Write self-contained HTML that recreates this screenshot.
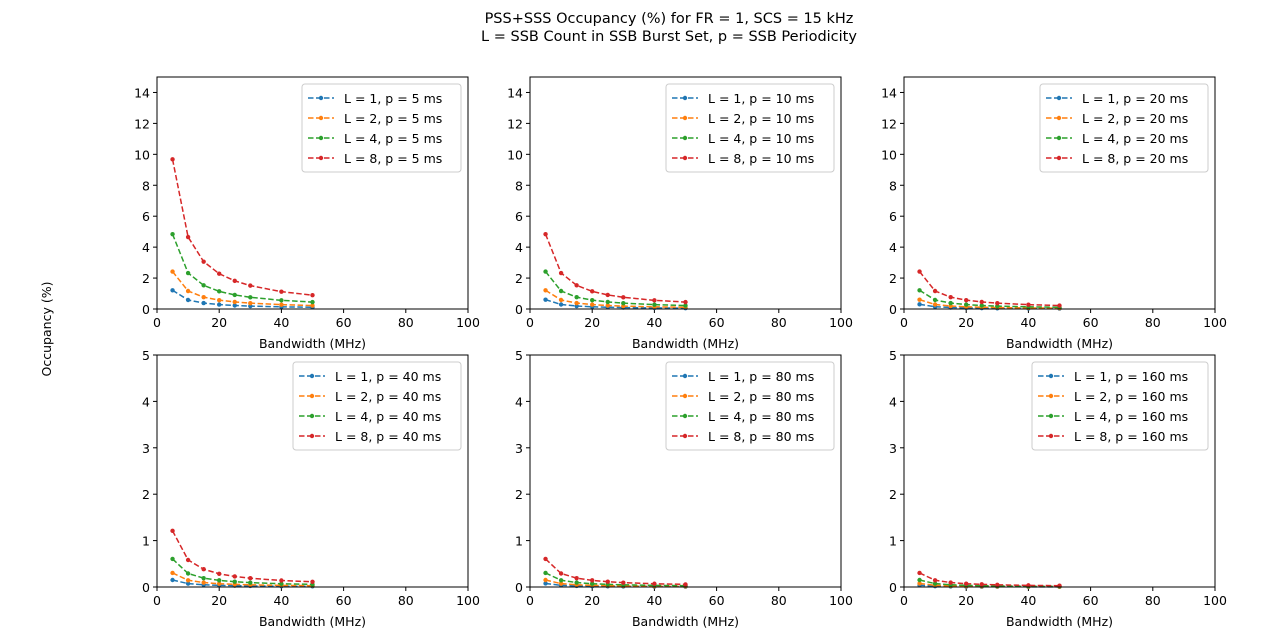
<!DOCTYPE html>
<html><head><meta charset="utf-8"><style>
body{margin:0;background:#fff;}
svg{display:block;font-family:"DejaVu Sans","Liberation Sans",sans-serif;}
</style></head><body>
<svg id="fig" width="1280" height="643" viewBox="0 0 1280 643">
<text x="669" y="23" font-size="14.5" text-anchor="middle">PSS+SSS Occupancy (%) for FR = 1, SCS = 15 kHz</text>
<text x="669" y="41" font-size="14.5" text-anchor="middle">L = SSB Count in SSB Burst Set, p = SSB Periodicity</text>
<text x="51" y="329" font-size="12.5" text-anchor="middle" transform="rotate(-90 51 329)">Occupancy (%)</text>
</svg>
<script>
const bandwidths = [5, 10, 15, 20, 25, 30, 40, 50];
const xTicks = [0, 20, 40, 60, 80, 100];
const yTicksTop = [0, 2, 4, 6, 8, 10, 12, 14];
const yTicksBottom = [0, 1, 2, 3, 4, 5];
const periods = [5, 10, 20, 40, 80, 160];
const sscounts = [1, 2, 4, 8];
const v0 = [0.038, 0.018, 0.012, 0.009, 0.007, 0.006, 0.004, 0.0035];
const v1 = [0.076, 0.036, 0.024, 0.018, 0.014, 0.012, 0.009, 0.007];
const v2 = [0.151, 0.073, 0.048, 0.036, 0.028, 0.024, 0.018, 0.014];
const v3 = [0.302, 0.145, 0.096, 0.071, 0.057, 0.047, 0.035, 0.028];
const v4 = [0.605, 0.291, 0.191, 0.143, 0.114, 0.094, 0.070, 0.056];
const v5 = [1.210, 0.582, 0.383, 0.285, 0.227, 0.189, 0.140, 0.112];
const v6 = [2.419, 1.163, 0.766, 0.571, 0.455, 0.378, 0.280, 0.224];
const v7 = [4.838, 2.326, 1.531, 1.141, 0.909, 0.756, 0.560, 0.448];
const v8 = [9.676, 4.652, 3.062, 2.282, 1.819, 1.512, 1.120, 0.896];
const panelSeries = [
  [v5, v6, v7, v8],
  [v4, v5, v6, v7],
  [v3, v4, v5, v6],
  [v2, v3, v4, v5],
  [v1, v2, v3, v4],
  [v0, v1, v2, v3]
];
const colors = ['#1f77b4', '#ff7f0e', '#2ca02c', '#d62728'];
const NS = 'http://www.w3.org/2000/svg';
const svg = document.getElementById('fig');
function mk(tag, attrs, parent) {
  const e = document.createElementNS(NS, tag);
  for (const k in attrs) e.setAttribute(k, attrs[k]);
  (parent || svg).appendChild(e);
  return e;
}
const colX = [157, 530, 904];
const rowY = [77, 355];
const W = 311, H = 232;
periods.forEach((p, i) => {
  const r = Math.floor(i / 3), c = i % 3;
  const x0 = colX[c], y0 = rowY[r];
  const yMax = r === 0 ? 15 : 5;
  const yTicks = r === 0 ? yTicksTop : yTicksBottom;
  const sx = v => x0 + v / 100 * W;
  const sy = v => y0 + H - v / yMax * H;
  const g = mk('g', {});
  
  
  xTicks.forEach(t => {
    mk('line', {x1: sx(t), x2: sx(t), y1: y0 + H, y2: y0 + H + 4, stroke: '#000', 'stroke-width': 1}, g);
    const tx = mk('text', {x: sx(t), y: y0 + H + 18, 'font-size': 12.5, 'text-anchor': 'middle'}, g);
    tx.textContent = t;
    
    
  });
  yTicks.forEach(t => {
    mk('line', {x1: x0 - 4, x2: x0, y1: sy(t), y2: sy(t), stroke: '#000', 'stroke-width': 1}, g);
    const ty = mk('text', {x: x0 - 7, y: sy(t) + 5, 'font-size': 12.5, 'text-anchor': 'end'}, g);
    ty.textContent = t;
    
    
  });
  const xl = mk('text', {x: x0 + W / 2, y: y0 + H + 39, 'font-size': 12.5, 'text-anchor': 'middle'}, g);
  xl.textContent = 'Bandwidth (MHz)';
  
  
  panelSeries[i].forEach((vals, k) => {
    const pts = bandwidths.map((b, j) => sx(b) + ',' + sy(vals[j])).join(' ');
    const pl = mk('polyline', {points: pts, fill: 'none', stroke: colors[k], 'stroke-width': 1.5, 'stroke-dasharray': '5.5,2.5'}, g);
    
    
    bandwidths.forEach((b, j) => {
      const d = mk('circle', {cx: sx(b), cy: sy(vals[j]), r: 2.2, fill: colors[k]}, g);
      
      
    });
  });
  const fr = mk('rect', {x: x0, y: y0, width: W, height: H, fill: 'none', stroke: '#000', 'stroke-width': 1}, g);
  
  
  const lw = p >= 100 ? 176 : (p >= 10 ? 168 : 159);
  const lx = x0 + W - 7 - lw, ly = y0 + 7;
  const lg = mk('g', {}, g);
  
  
  mk('rect', {x: lx, y: ly, width: lw, height: 88, rx: 3, fill: '#fff', 'fill-opacity': 0.8, stroke: '#ccc'}, lg);
  sscounts.forEach((L, k) => {
    const yy = ly + 14 + k * 20;
    mk('line', {x1: lx + 6, x2: lx + 32, y1: yy, y2: yy, stroke: colors[k], 'stroke-width': 1.5, 'stroke-dasharray': '5.5,2.5'}, lg);
    mk('circle', {cx: lx + 19, cy: yy, r: 2.2, fill: colors[k]}, lg);
    const t = mk('text', {x: lx + 42, y: yy + 5, 'font-size': 12.5}, lg);
    t.textContent = 'L = ' + L + ', p = ' + p + ' ms';
    
    
  });
});
</script>
</body></html>
